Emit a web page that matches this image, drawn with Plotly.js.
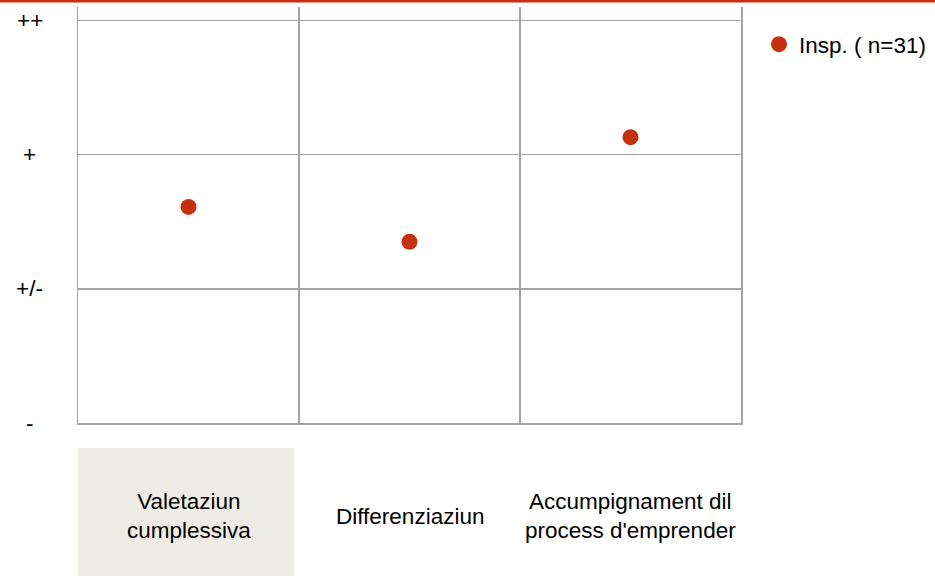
<!DOCTYPE html>
<html>
<head>
<meta charset="utf-8">
<script src="https://cdn.plot.ly/plotly-3.0.1.min.js"></script>
<style>html,body{margin:0;padding:0;background:#fff;}</style>
</head>
<body>
<div id="chart" style="width:935px;height:576px;"></div>
<script>
// ---- data ----
var categories = ["Valetaziun<br>cumplessiva", "Differenziaziun", "Accumpignament dil<br>process d'emprender"];
var scores = [1.61, 1.35, 2.13];
var levelValues = [0, 1, 2, 3];
var levelLabels = ["-", "+/-", "+", "++"];
var seriesName = "Insp. ( n=31)";

// ---- style ----
var RED = "#C5310F";
var GRID = "#a3a3a3";
var FONT = "Liberation Sans, Arial, sans-serif";
var FS = 22.5;
var W = 935, H = 576, L = 78, R = 194, T = 7, B = 153;
var PW = W - L - R, PH = H - T - B;
function px2x(p) { return (p - L) / PW; }
function py2y(p) { return (H - B - p) / PH; }

var trace = {
  type: "scatter",
  mode: "markers",
  x: categories,
  y: scores,
  name: seriesName,
  marker: { color: RED, size: 16 },
  showlegend: true,
  hoverinfo: "none"
};

var annotations = [];
levelValues.forEach(function (v, i) {
  annotations.push({
    xref: "paper", yref: "y", x: px2x(30), y: v,
    text: levelLabels[i], showarrow: false,
    xanchor: "center", yanchor: "middle",
    font: { family: FONT, size: FS, color: "#000" }
  });
});
categories.forEach(function (c) {
  annotations.push({
    xref: "x", yref: "paper", x: c, y: py2y(516),
    text: c, showarrow: false,
    xanchor: "center", yanchor: "middle",
    font: { family: FONT, size: FS, color: "#000" }
  });
});

var layout = {
  width: W, height: H,
  margin: { l: L, r: R, t: T, b: B, pad: 0, autoexpand: false },
  paper_bgcolor: "#fff", plot_bgcolor: "#fff",
  font: { family: FONT, size: FS, color: "#000" },
  showlegend: true,
  legend: {
    x: px2x(759), y: py2y(23), xanchor: "left", yanchor: "top",
    font: { family: FONT, size: FS, color: "#000" },
    bgcolor: "rgba(0,0,0,0)"
  },
  xaxis: {
    type: "category",
    range: [-0.5, 2.5],
    tickson: "boundaries",
    showgrid: true, gridcolor: GRID, gridwidth: 1.5,
    showline: true, linecolor: GRID, linewidth: 1.5,
    showticklabels: false, ticks: "",
    zeroline: false, fixedrange: true
  },
  yaxis: {
    range: [0, 3.1],
    tickvals: levelValues,
    showgrid: true, gridcolor: GRID, gridwidth: 1.5,
    showline: true, mirror: true, linecolor: GRID, linewidth: 1.5,
    showticklabels: false, ticks: "",
    zeroline: false, fixedrange: true
  },
  shapes: [
    { type: "line", xref: "paper", yref: "paper",
      x0: px2x(0), x1: px2x(W), y0: py2y(1), y1: py2y(1),
      line: { color: RED, width: 3 } },
    { type: "rect", xref: "paper", yref: "paper", layer: "below",
      x0: px2x(78), x1: px2x(294), y0: py2y(448), y1: py2y(576),
      fillcolor: "#EDECE5", line: { width: 0 } }
  ],
  annotations: annotations
};

Plotly.newPlot("chart", [trace], layout, { displayModeBar: false, staticPlot: true });
</script>
</body>
</html>
